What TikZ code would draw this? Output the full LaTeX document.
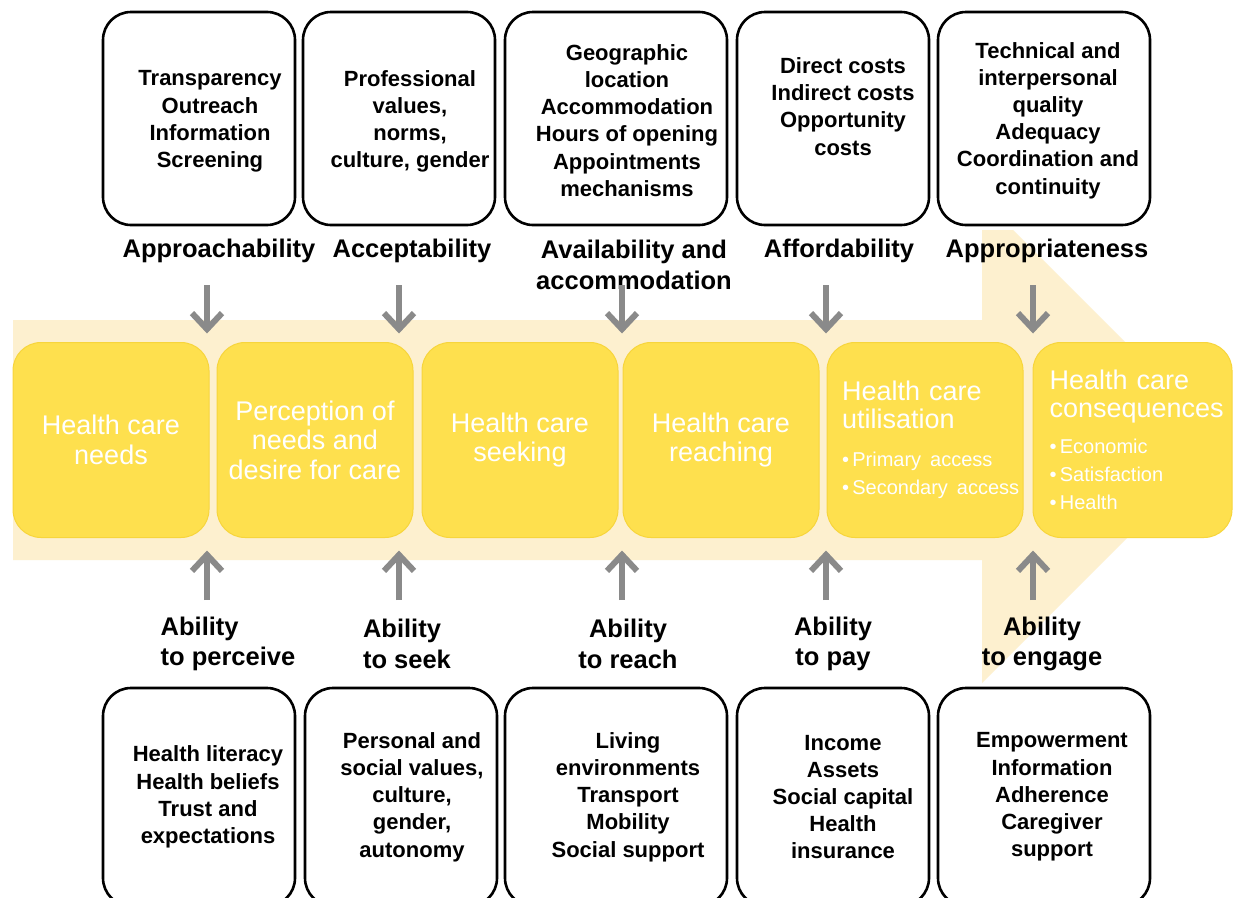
\documentclass[tikz,border=0pt]{standalone}
\usepackage{fontspec}
\setmainfont{Liberation Sans}
\usepackage{xcolor}
\usetikzlibrary{arrows.meta,positioning}
\definecolor{HCPale}{HTML}{FDF0CF}
\definecolor{HCYellow}{HTML}{FEE04E}
\definecolor{HCEdge}{HTML}{F7D53C}
\definecolor{HCGrey}{HTML}{8A8A8A}
\newcommand{\hcpoint}[1]{{\fontsize{20}{28}\selectfont\mbox{\textbullet\,#1}}}

\begin{document}
\begin{tikzpicture}[x=1pt,y=-1pt,
 node distance=8pt,
 frame/.style={draw=black,line width=2.6pt,rounded corners=28pt,outer sep=0pt,minimum width=192pt,minimum height=213pt},
 item/.style={align=center,font=\fontsize{22}{27.2}\selectfont\bfseries},
 dim/.style={align=center,font=\fontsize{25.5}{30.5}\selectfont\bfseries},
 stage/.style={draw=HCEdge,line width=1pt,fill=HCYellow,rounded corners=28pt,outer sep=0pt,minimum width=196pt,minimum height=195pt,align=center,text=white,font=\fontsize{27}{29.5}\selectfont},
 outcome/.style={stage,align=left,text width=166pt,font=\fontsize{27}{28}\selectfont},
 push/.style={-{Straight Barb[length=16pt,width=30pt]},line width=6pt,color=HCGrey}
]
\path[use as bounding box,fill=white] (0,0) rectangle (1234,897);

% the big pale arrow behind the stages
\fill[HCPale] (13,320) -- (982,320) -- (982,230) -- (1013,230) -- (1224,441)
  -- (982,683) -- (982,560) -- (13,560) -- cycle;

% stages of access
\node[stage] (s1) at (111,440) {Health care\\needs};
\node[stage,right=of s1] (s2) {Perception of\\needs and\\desire for care};
\node[stage,right=9pt of s2] (s3) {Health care\\seeking};
\node[stage,right=5pt of s3] (s4) {Health care\\reaching};
\node[outcome,right=8pt of s4] (s5) {Health care\\utilisation\\[10pt]\hcpoint{Primary access}\\\hcpoint{Secondary access}};
\node[outcome,right=10pt of s5,minimum width=199pt] (s6) {Health care\\consequences\\[8pt]\hcpoint{Economic}\\\hcpoint{Satisfaction}\\\hcpoint{Health}};

% service side
\node[frame] (t1) at (199,118.5) {};
\node[frame,right=of t1] (t2) {};
\node[frame,right=10pt of t2,minimum width=222pt] (t3) {};
\node[frame,right=10pt of t3] (t4) {};
\node[frame,right=9pt of t4,minimum width=212pt] (t5) {};
\node[item] (t1x) at ([xshift=11pt,yshift=-3pt]t1.center) {Transparency\\Outreach\\Information\\Screening};
\node[item] (t2x) at ([xshift=11pt,yshift=-3pt]t2.center) {Professional\\values,\\norms,\\culture, gender};
\node[item] (t3x) at ([xshift=11pt,yshift=-2pt]t3.center) {Geographic\\location\\Accommodation\\Hours of opening\\Appointments\\mechanisms};
\node[item] (t4x) at ([xshift=10pt,yshift=12pt]t4.center) {Direct costs\\Indirect costs\\Opportunity\\costs};
\node[item] (t5x) at ([xshift=4pt,yshift=-2pt]t5.center) {Technical and\\interpersonal\\quality\\Adequacy\\Coordination and\\continuity};

\node[dim] (approach) at (219,251) {Approachability};
\node[dim] (accept) at (412,251) {Acceptability};
\node[dim] (avail) at (634,265) {Availability and\\accommodation};
\node[dim] (afford) at (839,251) {Affordability};
\node[dim] (appropr) at (1047,251) {Appropriateness};

% user side
\node[frame,minimum height=218pt] (b1) at (199,797) {};
\node[frame,minimum height=218pt,right=10pt of b1] (b2) {};
\node[frame,minimum height=218pt,right=of b2,minimum width=222pt] (b3) {};
\node[frame,minimum height=218pt,right=10pt of b3] (b4) {};
\node[frame,minimum height=218pt,right=9pt of b4,minimum width=212pt] (b5) {};
\node[item] (b1x) at ([xshift=9pt]b1.center) {Health literacy\\Health beliefs\\Trust and\\expectations};
\node[item] (b2x) at ([xshift=11pt]b2.center) {Personal and\\social values,\\culture,\\gender,\\autonomy};
\node[item] (b3x) at ([xshift=12pt]b3.center) {Living\\environments\\Transport\\Mobility\\Social support};
\node[item] (b4x) at ([xshift=10pt]b4.center) {Income\\Assets\\Social capital\\Health\\insurance};
\node[item] (b5x) at ([xshift=8pt]b5.center) {Empowerment\\Information\\Adherence\\Caregiver\\support};

\node[dim,align=left] (perceive) at (228,644) {Ability\\to perceive};
\node[dim,align=left] (seek) at (407,644) {Ability\\to seek};
\node[dim] (reach) at (628,644) {Ability\\to reach};
\node[dim] (pay) at (833,644) {Ability\\to pay};
\node[dim] (engage) at (1042,644) {Ability\\to engage};

% grey arrows into the stages
\coordinate (p1) at (207,285);
\coordinate (p2) at (399,285);
\coordinate (p3) at (622,285);
\coordinate (p4) at (826,285);
\coordinate (p5) at (1033,285);
\coordinate (q1) at (207,600);
\coordinate (q2) at (399,600);
\coordinate (q3) at (622,600);
\coordinate (q4) at (826,600);
\coordinate (q5) at (1033,600);
\draw[push,shorten >=9pt] (p1) -- (p1 |- s1.north);
\draw[push,shorten >=9pt] (p2) -- (p2 |- s1.north);
\draw[push,shorten >=9pt] (p3) -- (p3 |- s1.north);
\draw[push,shorten >=9pt] (p4) -- (p4 |- s1.north);
\draw[push,shorten >=9pt] (p5) -- (p5 |- s1.north);
\draw[push,shorten >=13pt] (q1) -- (q1 |- s1.south);
\draw[push,shorten >=13pt] (q2) -- (q2 |- s1.south);
\draw[push,shorten >=13pt] (q3) -- (q3 |- s1.south);
\draw[push,shorten >=13pt] (q4) -- (q4 |- s1.south);
\draw[push,shorten >=13pt] (q5) -- (q5 |- s1.south);
\end{tikzpicture}
\end{document}
